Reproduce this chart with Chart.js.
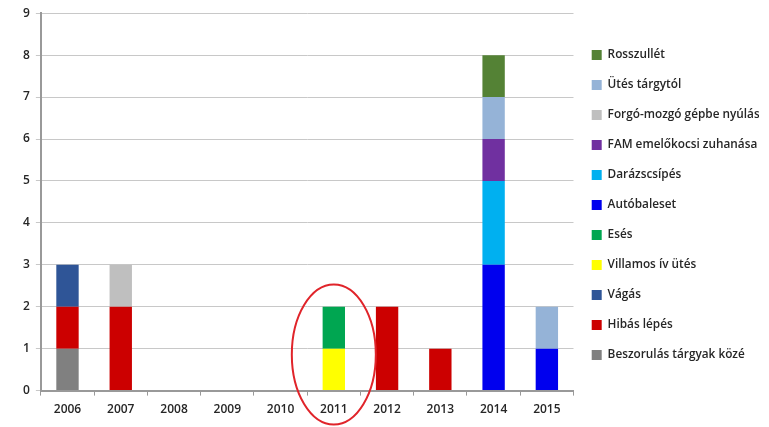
<!DOCTYPE html>
<html>
<head>
<meta charset="utf-8">
<script src="https://cdn.jsdelivr.net/npm/chart.js@4/dist/chart.umd.min.js"></script>
<style>
  html, body { margin: 0; padding: 0; background: #fff; }
  #wrap { width: 769px; height: 427px; position: relative; }
</style>
</head>
<body>
<div id="wrap"><canvas id="chart"></canvas></div>
<script>
const years = ['2006', '2007', '2008', '2009', '2010', '2011', '2012', '2013', '2014', '2015'];
const yTicks = [0, 1, 2, 3, 4, 5, 6, 7, 8, 9];

// bottom of the stack first
const beszorulas   = [1, 0, 0, 0, 0, 0, 0, 0, 0, 0];
const hibasLepes   = [1, 2, 0, 0, 0, 0, 2, 1, 0, 0];
const vagas        = [1, 0, 0, 0, 0, 0, 0, 0, 0, 0];
const villamosIv   = [0, 0, 0, 0, 0, 1, 0, 0, 0, 0];
const eses         = [0, 0, 0, 0, 0, 1, 0, 0, 0, 0];
const autobaleset  = [0, 0, 0, 0, 0, 0, 0, 0, 3, 1];
const darazscsipes = [0, 0, 0, 0, 0, 0, 0, 0, 2, 0];
const famZuhanas   = [0, 0, 0, 0, 0, 0, 0, 0, 1, 0];
const forgoMozgo   = [0, 1, 0, 0, 0, 0, 0, 0, 0, 0];
const utesTargy    = [0, 0, 0, 0, 0, 0, 0, 0, 1, 1];
const rosszullet   = [0, 0, 0, 0, 0, 0, 0, 0, 1, 0];

const highlightIndex = 5; // 2011

function ds(label, data, color) {
  return {
    label,
    data: data.map((v) => (v === 0 ? null : v)),
    backgroundColor: color,
    borderWidth: 0,
    barPercentage: 0.42,
    categoryPercentage: 1,
  };
}

const ellipsePlugin = {
  id: 'ellipse',
  afterDraw(chart) {
    const { ctx, scales } = chart;
    const cx = scales.x.getPixelForValue(highlightIndex);
    const cy = scales.y.getPixelForValue(0.86);
    ctx.save();
    ctx.strokeStyle = '#e0242a';
    ctx.lineWidth = 2;
    ctx.beginPath();
    ctx.ellipse(cx, cy, 42, 70, 0, 0, Math.PI * 2);
    ctx.stroke();
    ctx.restore();
  },
};

// legend sits a little above the vertical centre in the original
const legendShift = {
  id: 'legendShift',
  afterLayout(chart) {
    chart.legend.top -= 12;
    chart.legend.bottom -= 12;
  },
};

const axisFont = { family: '"Open Sans", sans-serif', size: 12, weight: '600' };
const legendFont = { family: '"Open Sans", sans-serif', size: 11.8, weight: '600' };

new Chart(document.getElementById('chart'), {
  type: 'bar',
  data: {
    labels: years,
    datasets: [
      ds('Beszorulás tárgyak közé', beszorulas, '#808080'),
      ds('Hibás lépés', hibasLepes, '#cc0000'),
      ds('Vágás', vagas, '#2f5597'),
      ds('Villamos ív ütés', villamosIv, '#ffff00'),
      ds('Esés', eses, '#00a651'),
      ds('Autóbaleset', autobaleset, '#0000ee'),
      ds('Darázscsípés', darazscsipes, '#00b0f0'),
      ds('FAM emelőkocsi zuhanása', famZuhanas, '#7030a0'),
      ds('Forgó-mozgó gépbe nyúlás', forgoMozgo, '#bfbfbf'),
      ds('Ütés tárgytól', utesTargy, '#95b3d7'),
      ds('Rosszullét', rosszullet, '#548235'),
    ],
  },
  options: {
    responsive: true,
    maintainAspectRatio: false,
    animation: false,
    layout: { padding: { top: 10, right: 10, left: 17, bottom: 3 } },
    plugins: {
      legend: {
        position: 'right',
        reverse: true,
        labels: {
          color: '#262626',
          font: legendFont,
          boxWidth: 10,
          boxHeight: 10,
          padding: 18.2,
        },
      },
      tooltip: { enabled: false },
    },
    scales: {
      x: {
        stacked: true,
        ticks: { color: '#262626', font: axisFont, padding: 7 },
        grid: { drawOnChartArea: false, color: '#999', tickLength: 5 },
        border: { color: '#999', width: 2 },
      },
      y: {
        stacked: true,
        min: 0,
        max: 9,
        afterBuildTicks: (axis) => { axis.ticks = yTicks.map((v) => ({ value: v })); },
        ticks: { color: '#262626', font: axisFont, padding: 6 },
        grid: { color: '#c8c8c8', tickLength: 5 },
        border: { color: '#999', width: 2 },
      },
    },
  },
  plugins: [ellipsePlugin, legendShift],
});
</script>
</body>
</html>
